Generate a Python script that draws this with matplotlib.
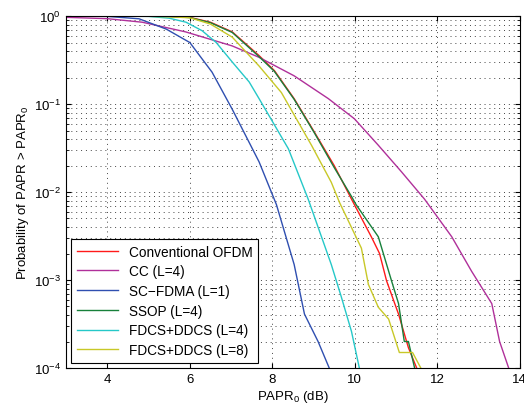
import matplotlib
matplotlib.use("Agg")
import matplotlib.pyplot as plt
from matplotlib.ticker import LogLocator, NullFormatter

plt.rcParams['font.family'] = ['Liberation Sans', 'DejaVu Sans']
plt.rcParams['mathtext.fontset'] = 'custom'
plt.rcParams['mathtext.rm'] = 'Liberation Sans'
plt.rcParams['mathtext.it'] = 'Liberation Sans:italic'

# curves (PAPR0 in dB, CCDF)
ofdm_x = [3, 4, 5, 5.5, 6, 6.5, 7.03, 7.68, 8.05, 8.53, 9.02, 9.5, 9.92, 10.4, 10.6, 10.77, 11.06, 11.3, 11.5]
ofdm_p = [1.0, 1.0, 0.995, 0.99, 0.965, 0.85, 0.66, 0.355, 0.24, 0.115, 0.048, 0.02, 0.0083, 0.0031, 0.002, 0.00098, 0.00041, 0.00017, 0.0001]

cc_x = [3, 4, 4.85, 5.9, 7.03, 7.68, 8.53, 9.36, 9.99, 10.57, 11.13, 11.69, 12.35, 12.83, 13.32, 13.51, 13.73]
cc_p = [0.966, 0.933, 0.85, 0.66, 0.457, 0.339, 0.209, 0.115, 0.068, 0.034, 0.017, 0.0083, 0.0031, 0.00126, 0.00054, 0.0002, 0.0001]

scfdma_x = [3, 4, 4.77, 5.43, 6.0, 6.54, 7.03, 7.68, 8.1, 8.53, 8.78, 9.11, 9.38]
scfdma_p = [1.0, 0.99, 0.93, 0.71, 0.5, 0.23, 0.087, 0.022, 0.0072, 0.0015, 0.00041, 0.0002, 0.0001]

ssop_x = [3, 4, 5, 5.5, 6, 6.5, 7.03, 7.68, 8.05, 8.53, 9.02, 9.5, 9.92, 10.03, 10.57, 10.89, 11.06, 11.2, 11.3, 11.45]
ssop_p = [1.0, 1.0, 0.995, 0.988, 0.96, 0.84, 0.65, 0.345, 0.235, 0.113, 0.047, 0.019, 0.0089, 0.0072, 0.0031, 0.00098, 0.00054, 0.0002, 0.0002, 0.0001]

fd4_x = [3, 4, 5, 5.5, 5.91, 6.3, 6.64, 7.03, 7.44, 7.68, 8.39, 8.87, 9.43, 9.67, 9.92, 10.11]
fd4_p = [1.0, 1.0, 0.99, 0.945, 0.85, 0.68, 0.5, 0.3, 0.178, 0.115, 0.031, 0.0083, 0.0015, 0.00065, 0.00026, 0.0001]

fd8_x = [3, 4, 5, 5.5, 6, 6.5, 7.03, 7.68, 8.22, 8.95, 9.43, 9.63, 10.16, 10.33, 10.57, 10.82, 11.08, 11.4, 11.6]
fd8_p = [1.0, 1.0, 0.993, 0.98, 0.955, 0.81, 0.575, 0.27, 0.135, 0.034, 0.0129, 0.0076, 0.0023, 0.00089, 0.00049, 0.00036, 0.00015, 0.00015, 0.0001]

fig = plt.figure(figsize=(5.24, 4.10), dpi=100)
ax = fig.add_axes([0.126, 0.1, 0.866, 0.8585])

ax.semilogy(ofdm_x, ofdm_p, color='#ff1a1a', lw=1.0, label='Conventional OFDM')
ax.semilogy(cc_x, cc_p, color='#b0309a', lw=1.0, label='CC (L=4)')
ax.semilogy(scfdma_x, scfdma_p, color='#2f4fb0', lw=1.0, label='SC\u2212FDMA (L=1)')
ax.semilogy(ssop_x, ssop_p, color='#17803a', lw=1.0, label='SSOP (L=4)')
ax.semilogy(fd4_x, fd4_p, color='#25c8c8', lw=1.0, label='FDCS+DDCS (L=4)')
ax.semilogy(fd8_x, fd8_p, color='#c8c828', lw=1.0, label='FDCS+DDCS (L=8)')

ax.set_xlim(3, 14)
ax.set_ylim(1e-4, 1)
ax.set_xticks([4, 6, 8, 10, 12, 14])
ax.yaxis.set_major_locator(LogLocator(base=10, numticks=10))
ax.yaxis.set_minor_locator(LogLocator(base=10, subs=range(2, 10), numticks=10))
ax.yaxis.set_minor_formatter(NullFormatter())
ax.tick_params(which='both', direction='in', top=True, right=True, labelsize=9.5)
ax.grid(True, which='major', linestyle=(0, (1, 4)), color='#444444', lw=0.7)
ax.grid(True, which='minor', axis='y', linestyle=(0, (1, 4)), color='#444444', lw=0.7)

ax.set_xlabel('PAPR$_0$ (dB)', fontsize=9.5, labelpad=2)
ax.set_ylabel('Probability of PAPR > PAPR$_0$', fontsize=9.5, labelpad=2)

leg = ax.legend(loc='lower left', fontsize=9.8, handlelength=3.0, fancybox=False,
                edgecolor='black', framealpha=1, borderaxespad=0.4, labelspacing=0.42)
leg.get_frame().set_linewidth(0.8)

fig.savefig('out.png', dpi=100)
